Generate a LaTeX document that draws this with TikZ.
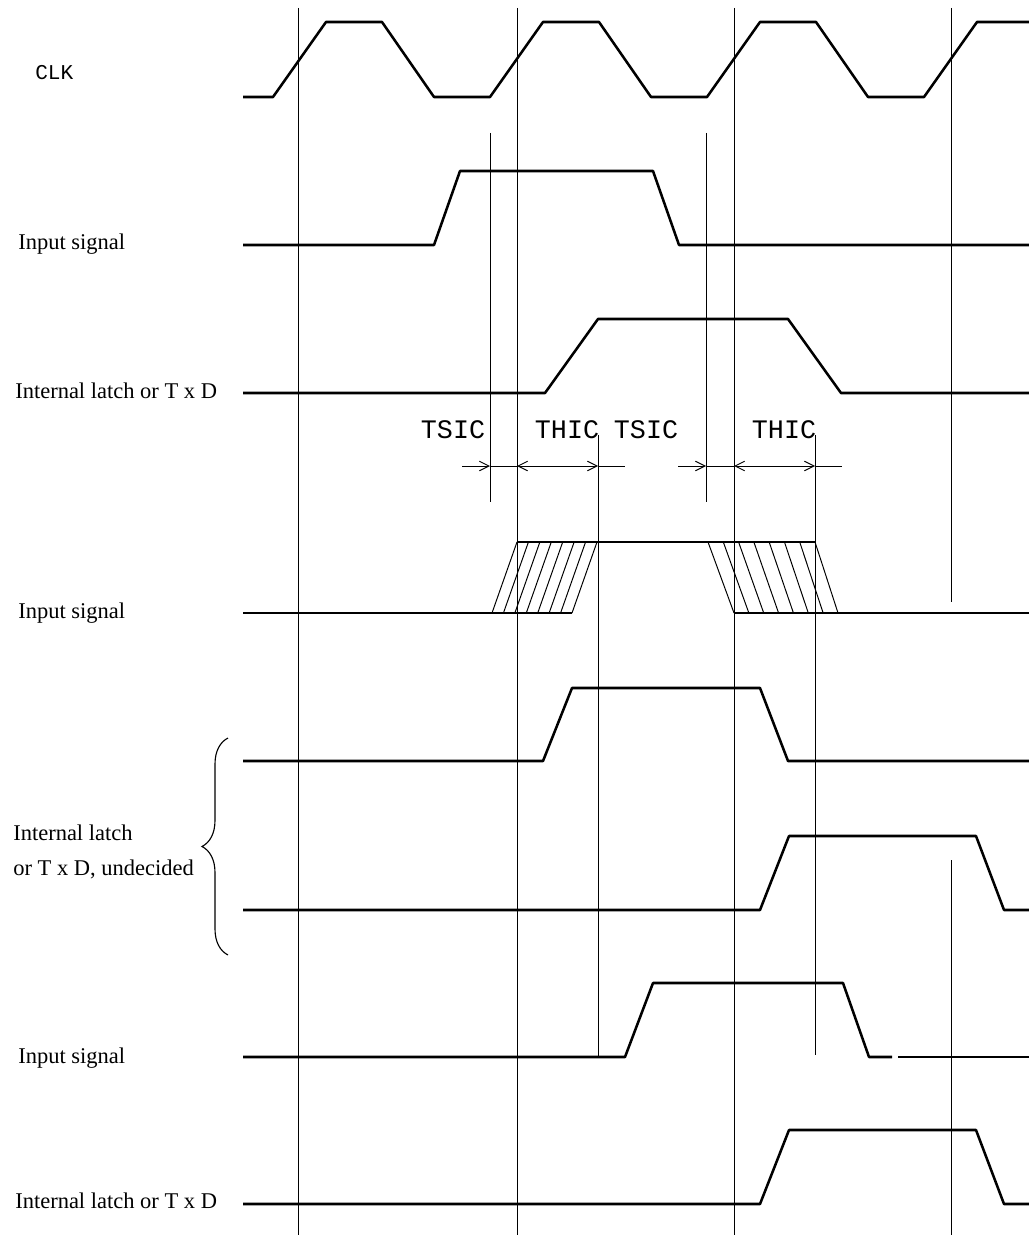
\documentclass[tikz,border=0pt]{standalone}
\usepackage{fontspec}
\setmainfont{Liberation Serif}
\newfontfamily\clkfont{Liberation Mono}
\newfontfamily\tagfont{Liberation Mono}
\usetikzlibrary{arrows.meta, decorations.pathreplacing}

\begin{document}
\begin{tikzpicture}[
  x=0.025cm, y=-0.025cm,
  >={Straight Barb[length=2.4mm,width=2.4mm]},
  sig/.style={line width=1.8pt, line join=round},
  grid/.style={line width=0.6pt},
  hatch/.style={line width=0.7pt},
  dim/.style={line width=0.7pt},
  lbl/.style={font=\fontsize{16}{19}\selectfont, anchor=base west, inner sep=0pt},
  tag/.style={font=\tagfont\fontsize{19}{22}\selectfont, inner sep=0pt},
]
\useasboundingbox (0,0) rectangle (1029,1235);

% ================= LABELS =================
\node[lbl, font=\clkfont\fontsize{15}{17}\selectfont] (clk)  at (35,80)    {CLK};
\node[lbl]                                            (in1)  at (18,249)   {Input signal};
\node[lbl]                                            (lat1) at (15,398)   {Internal latch or T x D};
\node[lbl]                                            (in2)  at (18,618)   {Input signal};
\node[lbl]                                            (und1) at (13,840)   {Internal latch};
\node[lbl]                                            (und2) at (13,875)   {or T x D, undecided};
\node[lbl]                                            (in3)  at (18,1063)  {Input signal};
\node[lbl]                                            (lat3) at (15,1208)  {Internal latch or T x D};

\node[tag] (tsic1) at (453,430) {TSIC};
\node[tag] (thic1) at (567,430) {THIC};
\node[tag] (tsic2) at (646,430) {TSIC};
\node[tag] (thic2) at (784,430) {THIC};

% ================= GRID LINES =================
\foreach \x in {298,517,734}
  \draw[grid] (\x,8) -- (\x,1235);
\draw[grid] (951,8) -- (951,602);
\draw[grid] (951,860) -- (951,1235);
\foreach \x in {490,706}
  \draw[grid] (\x,133) -- (\x,502);
\draw[grid] (598,435) -- (598,1056);
\draw[grid] (815,435) -- (815,1055);

% ================= SIGNALS =================
\draw[sig] (243,97) -- (273,97) -- (326,22) -- (382,22) -- (434,97) -- (490,97) -- (543,22) -- (599,22)
           -- (651,97) -- (707,97) -- (760,22) -- (816,22) -- (868,97) -- (924,97) -- (977,22) -- (1029,22);

\draw[sig] (243,245) -- (434,245) -- (460,171) -- (653,171) -- (679,245) -- (1029,245);
\draw[sig] (243,393) -- (545,393) -- (598,319) -- (788,319) -- (841,393) -- (1029,393);

% setup / hold marks
\draw[dim, ->] (462,466) -- (490,466);
\draw[dim] (490,466) -- (517,466);
\draw[dim, <->] (517,466) -- (598,466);
\draw[dim] (598,466) -- (625,466);
\draw[dim, ->] (678,466) -- (706,466);
\draw[dim] (706,466) -- (734,466);
\draw[dim, <->] (734,466) -- (815,466);
\draw[dim] (815,466) -- (842,466);

% input with uncertain edges
\draw[sig] (243,613) -- (572,613);
\draw[sig] (517,542) -- (815,542);
\draw[sig] (734,613) -- (1029,613);
\foreach \i in {0,...,7}
  \draw[hatch] ({492+\i*80/7},613) -- ({517+\i*80/7},542);
\foreach \i in {0,...,7}
  \draw[hatch] ({708+\i*107/7},542) -- ({734+\i*104/7},613);

\draw[sig] (243,761) -- (543,761) -- (572,688) -- (760,688) -- (788,761) -- (1029,761);
\draw[sig] (243,910) -- (760,910) -- (789,836) -- (976,836) -- (1004,910) -- (1029,910);

\draw[sig] (243,1057) -- (625,1057) -- (653,983) -- (843,983) -- (869,1057) -- (892,1057);
\draw[sig] (898,1057) -- (1029,1057);
\draw[sig] (243,1204) -- (760,1204) -- (789,1130) -- (976,1130) -- (1004,1204) -- (1029,1204);

% brace
\draw[line width=0.8pt, decorate, decoration={brace, amplitude=0.65cm}] (228,955) -- (228,738);

\end{tikzpicture}
\end{document}
